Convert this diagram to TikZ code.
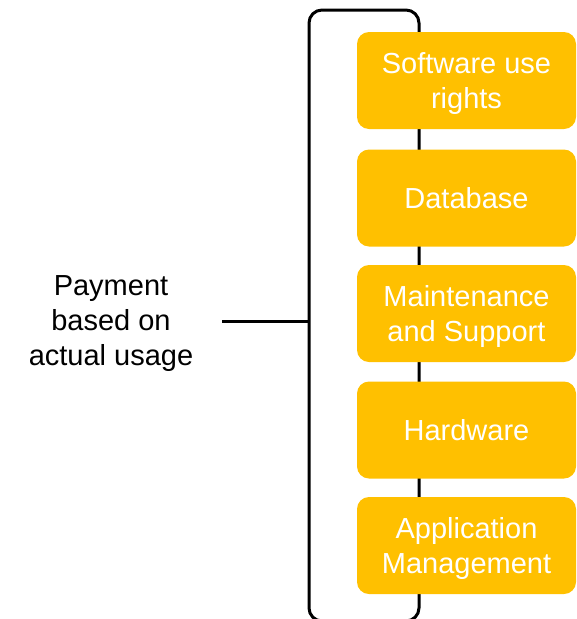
\documentclass[tikz,border=0pt]{standalone}
\usepackage{fontspec}
\setmainfont{Liberation Sans}
\definecolor{gold}{HTML}{FFC000}
\begin{document}
\begin{tikzpicture}[x=1pt,y=-1pt,
  item/.style={fill=gold, draw=none, rounded corners=12pt, minimum width=219pt, minimum height=97pt,
    text=white, align=center, font=\fontsize{29}{35}\selectfont, inner sep=0pt},
  two/.style={text depth=-7pt},
  lbl/.style={align=center, font=\fontsize{29}{35}\selectfont, text=black, inner sep=0pt, text depth=-7pt},
  bar/.style={line width=3pt, draw=black}]
\useasboundingbox (0,0) rectangle (577,619);
\clip (0,0) rectangle (577,619);
\draw[bar, rounded corners=13pt] (309,621) rectangle (419,10);
\coordinate (brk) at (309,321);
\node[lbl] (pay) at (111,321) {Payment\\based on\\actual usage};
\coordinate (start) at (222,321);
\draw[bar] (start) -- (brk);
\node[item, two] (b1) at (466.5,80.5) {Software use\\rights};
\node[item] (b2) at (466.5,198) {Database};
\node[item, two] (b3) at (466.5,313.5) {Maintenance\\and Support};
\node[item] (b4) at (466.5,430) {Hardware};
\node[item, two] (b5) at (466.5,545.5) {Application\\Management};
\end{tikzpicture}
\end{document}
